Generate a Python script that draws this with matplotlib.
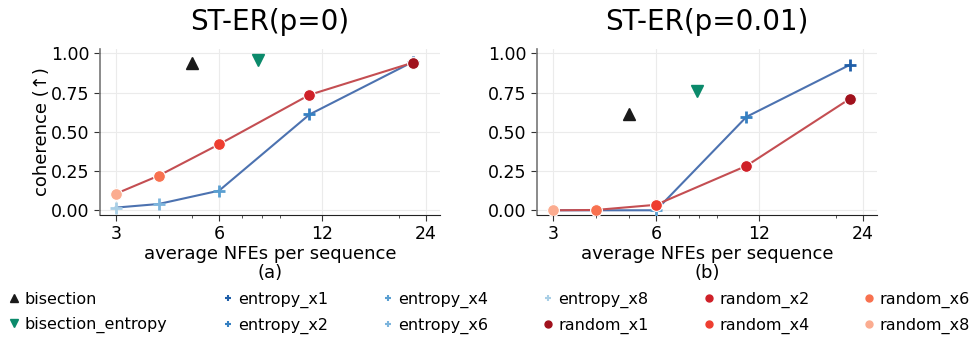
import numpy as np
import matplotlib
matplotlib.use("Agg")
import matplotlib.pyplot as plt
from matplotlib.ticker import FixedLocator, FixedFormatter, NullFormatter
from matplotlib.lines import Line2D

# data
titles = ["ST-ER(p=0)", "ST-ER(p=0.01)"]
panel_tags = ["(a)", "(b)"]
nfe = [3, 4, 6, 11, 22]                       # x8, x6, x4, x2, x1
mult = ["x8", "x6", "x4", "x2", "x1"]
entropy_coh = [[0.017, 0.04, 0.125, 0.61, 0.945],
               [0.0, 0.0, 0.0, 0.595, 0.926]]
random_coh = [[0.105, 0.22, 0.42, 0.735, 0.94],
              [0.0, 0.002, 0.035, 0.283, 0.71]]
bisect_nfe = [5.0, 5.0]
bisect_coh = [0.935, 0.615]
bisect_ent_nfe = [7.8, 7.9]
bisect_ent_coh = [0.955, 0.76]

blues = {"x1": "#1f5ea8", "x2": "#3580c2", "x4": "#5a9fd1",
         "x6": "#7db5dd", "x8": "#a9cfe6"}
reds = {"x1": "#a0111c", "x2": "#cf2028", "x4": "#ee3e30",
        "x6": "#f8714f", "x8": "#fbac90"}

fig = plt.figure(figsize=(9.74, 3.39), dpi=100)
lefts = [100 / 974, 537 / 974]
w = 340 / 974
bot = 1 - 215 / 339
h = (215 - 49) / 339

for i in range(2):
    ax = fig.add_axes([lefts[i], bot, w, h])
    ax.set_xscale("log")
    ax.grid(True, color="#ebebeb", lw=0.8, zorder=0)
    ax.plot(nfe, entropy_coh[i], color="#4c72b0", lw=1.5, zorder=2)
    ax.plot(nfe, random_coh[i], color="#c44e52", lw=1.5, zorder=2)
    for x, y, m in zip(nfe, entropy_coh[i], mult):
        ax.plot(x, y, marker="+", ms=8, mew=2, color=blues[m], zorder=3)
    for x, y, m in zip(nfe, random_coh[i], mult):
        ax.plot(x, y, marker="o", ms=8.5, mec="white", mew=0.8, color=reds[m], zorder=4)
    ax.plot(bisect_nfe[i], bisect_coh[i], marker="^", ms=9, color="#1a1a1a", ls="none", zorder=4)
    ax.plot(bisect_ent_nfe[i], bisect_ent_coh[i], marker="v", ms=9, color="#0b8a6b", ls="none", zorder=4)

    ax.set_xlim(2.7, 26.4)
    ax.set_ylim(-0.03, 1.027)
    ax.xaxis.set_major_locator(FixedLocator([3, 6, 12, 24]))
    ax.xaxis.set_major_formatter(FixedFormatter(["3", "6", "12", "24"]))
    ax.xaxis.set_minor_formatter(NullFormatter())
    ax.set_yticks([0, 0.25, 0.5, 0.75, 1.0])
    ax.set_yticklabels(["0.00", "0.25", "0.50", "0.75", "1.00"])
    ax.tick_params(labelsize=12.5, length=4, color="#333333")
    ax.tick_params(which="minor", length=2.5, color="#333333")
    for s in ["top", "right"]:
        ax.spines[s].set_visible(False)
    ax.spines["left"].set_color("#777777")
    ax.spines["left"].set_linewidth(1.2)
    ax.spines["bottom"].set_color("#222222")
    ax.set_title(titles[i], fontsize=20, pad=14)
    ax.set_xlabel("average NFEs per sequence\n" + panel_tags[i], fontsize=13, labelpad=1, linespacing=1.05)
    if i == 0:
        ax.set_ylabel("coherence (↑)", fontsize=13, labelpad=0)

# legend (column-major fill, 6 columns)
handles = [Line2D([], [], marker="^", color="#1a1a1a", ls="none", ms=6),
           Line2D([], [], marker="v", color="#0b8a6b", ls="none", ms=6)]
labels = ["bisection", "bisection_entropy"]
for m in ["x1", "x2", "x4", "x6", "x8"]:
    handles.append(Line2D([], [], marker="+", color=blues[m], ls="none", ms=5, mew=1.5))
    labels.append("entropy_" + m)
for m in ["x1", "x2", "x4", "x6", "x8"]:
    handles.append(Line2D([], [], marker="o", color=reds[m], ls="none", ms=5))
    labels.append("random_" + m)

fig.legend(handles, labels, ncol=6, loc="upper center", bbox_to_anchor=(0.503, 0.139),
           frameon=False, fontsize=11.5, handlelength=0.6, handletextpad=0.35,
           columnspacing=3.45, labelspacing=0.6, borderaxespad=0, borderpad=0)

fig.savefig("out.png", dpi=100)
